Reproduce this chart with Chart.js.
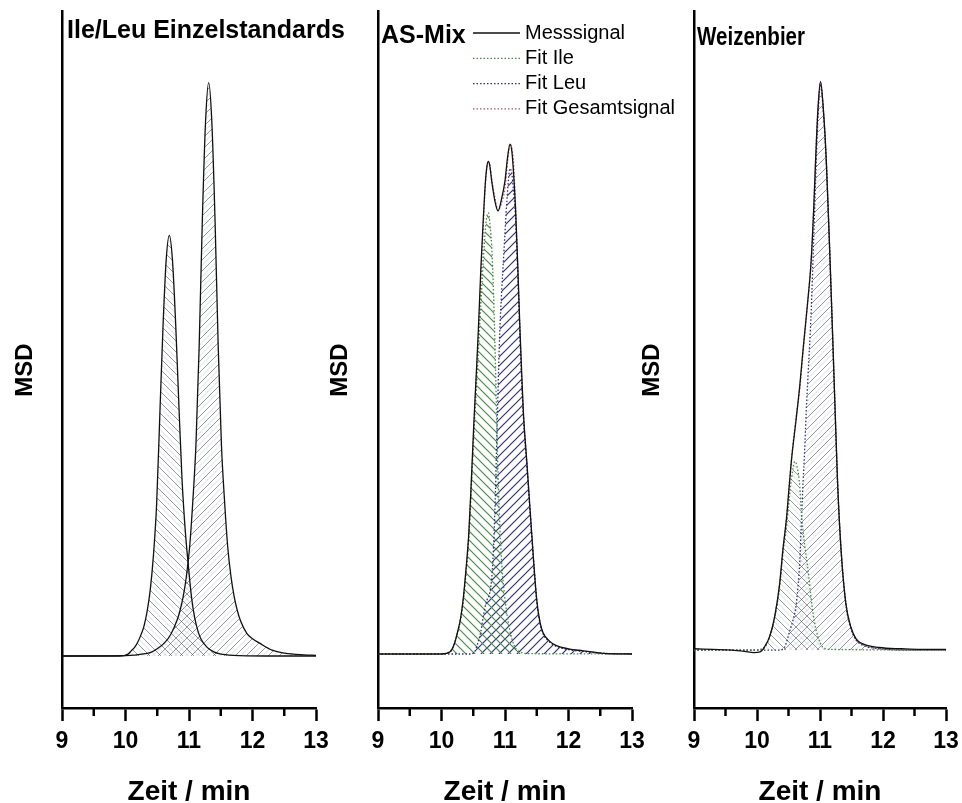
<!DOCTYPE html>
<html>
<head>
<meta charset="utf-8">
<title>Ile/Leu</title>
<script src="https://cdn.jsdelivr.net/npm/chart.js@4.4.1/dist/chart.umd.min.js"></script>
<style>
  html, body { margin: 0; padding: 0; background: #fff; }
  body { width: 962px; height: 803px; position: relative; overflow: hidden; }
  canvas { position: absolute; top: 0; }
  #c1 { left: 0; }
  #c2 { left: 316px; }
  #c3 { left: 620px; }
</style>
</head>
<body>
<canvas id="c1" width="360" height="803"></canvas>
<canvas id="c2" width="360" height="803"></canvas>
<canvas id="c3" width="350" height="803"></canvas>
<script>
// x axis
const timeTicks = [9, 10, 11, 12, 13];
const minorTicks = [9.5, 10.5, 11.5, 12.5];

// Ile/Leu single standards
const stdIleTime = [9.0, 9.9, 10.04, 10.09, 10.14, 10.19, 10.24, 10.29, 10.34, 10.39, 10.44, 10.49, 10.54, 10.59, 10.64, 10.69, 10.74, 10.79, 10.84, 10.89, 10.94, 10.99, 11.04, 11.09, 11.14, 11.19, 11.29, 11.39, 11.49, 11.7, 12.2, 13.0];
const stdIleSignal = [0, 0, 0.3, 0.8, 1.3, 2.1, 3.2, 4.6, 6.9, 10.3, 15.6, 23.5, 37.2, 50.9, 61.3, 65.2, 61.3, 51.5, 39.1, 27.4, 19.6, 14.0, 9.1, 5.9, 3.9, 2.6, 1.3, 0.65, 0.33, 0.1, 0, 0];
const stdLeuTime = [9.0, 10.0, 10.31, 10.41, 10.51, 10.61, 10.71, 10.81, 10.86, 10.91, 10.96, 11.01, 11.06, 11.11, 11.16, 11.21, 11.26, 11.31, 11.36, 11.41, 11.46, 11.51, 11.56, 11.61, 11.66, 11.71, 11.76, 11.81, 11.91, 12.01, 12.11, 12.31, 12.51, 12.81, 13.0];
const stdLeuSignal = [0, 0.05, 0.36, 0.6, 1.2, 2.0, 3.3, 5.5, 7.1, 9.3, 12.4, 16.9, 24.0, 32.9, 48.0, 67.6, 82.7, 88.9, 82.7, 67.6, 48.0, 32.9, 24.0, 16.9, 12.4, 9.3, 7.1, 5.5, 3.5, 2.6, 2.0, 0.9, 0.44, 0.18, 0.1];

// AS-Mix
const mixTime = [9.0, 9.6, 10.0, 10.13, 10.20, 10.25, 10.30, 10.34, 10.38, 10.43, 10.47, 10.51, 10.55, 10.58, 10.62, 10.66, 10.69, 10.715, 10.737, 10.76, 10.79, 10.84, 10.89, 10.94, 11.00, 11.04, 11.079, 11.11, 11.13, 11.165, 11.20, 11.236, 11.27, 11.29, 11.35, 11.42, 11.50, 11.55, 11.60, 11.70, 11.81, 12.0, 12.23, 12.55, 13.0];
const mixSignal = [0, 0, 0, 0.3, 1.5, 3.3, 5.5, 8.4, 12.5, 18.8, 27.0, 36.0, 44.0, 50.3, 60.0, 68.0, 73.2, 75.8, 76.6, 76.0, 73.6, 70.5, 68.9, 70.5, 73.6, 77.2, 79.3, 78.0, 75.5, 69.5, 60.7, 50.3, 42.0, 37.5, 29.0, 18.8, 8.4, 5.0, 3.3, 2.0, 1.3, 0.8, 0.5, 0.1, 0];
const mixSumFit = [0, 0, 0, 0.3, 1.5, 3.2, 5.4, 8.1, 12.0, 18.4, 26.4, 35.2, 43.5, 49.0, 58.0, 67.0, 72.8, 75.8, 76.4, 76.0, 74.0, 71.0, 69.0, 70.0, 72.5, 76.5, 79.3, 78.5, 77.0, 70.0, 60.1, 49.9, 41.0, 37.0, 28.6, 18.6, 8.3, 4.9, 3.2, 1.9, 1.2, 0.7, 0.4, 0.1, 0];
const mixIleTime = [9.0, 10.0, 10.13, 10.20, 10.25, 10.30, 10.34, 10.38, 10.43, 10.47, 10.51, 10.55, 10.58, 10.62, 10.66, 10.69, 10.72, 10.74, 10.76, 10.80, 10.84, 10.88, 10.91, 10.95, 11.00, 11.07, 11.14, 11.22, 11.4, 13.0];
const mixIleFit = [0, 0, 0.3, 1.5, 3.2, 5.4, 8.1, 12.0, 18.0, 25.8, 34.2, 41.5, 47.0, 54.5, 61.5, 66.0, 68.3, 68.6, 67.2, 61.5, 49.0, 32.0, 22.0, 14.0, 8.5, 4.0, 1.4, 0.4, 0.05, 0];
const mixLeuTime = [9.0, 10.45, 10.53, 10.58, 10.62, 10.66, 10.69, 10.72, 10.76, 10.80, 10.84, 10.88, 10.91, 10.94, 10.98, 11.03, 11.08, 11.11, 11.13, 11.165, 11.20, 11.236, 11.27, 11.29, 11.35, 11.42, 11.50, 11.55, 11.60, 11.70, 11.81, 12.0, 12.23, 12.55, 13.0];
const mixLeuFit = [0, 0, 0.5, 2.0, 3.5, 6.0, 7.5, 8.5, 9.5, 13.0, 22.0, 37.0, 48.0, 55.0, 62.0, 70.5, 75.5, 74.5, 72.5, 68.0, 59.5, 49.5, 41.0, 37.0, 28.6, 18.6, 8.3, 4.9, 3.2, 1.9, 1.2, 0.7, 0.4, 0.1, 0];

// Weizenbier
const beerTime = [9.0, 9.3, 9.6, 9.8, 9.95, 10.05, 10.12, 10.20, 10.28, 10.36, 10.41, 10.47, 10.51, 10.55, 10.62, 10.68, 10.73, 10.80, 10.86, 10.90, 10.93, 10.966, 11.008, 11.055, 11.10, 11.16, 11.21, 11.24, 11.28, 11.335, 11.41, 11.49, 11.57, 11.67, 11.94, 12.3, 12.6, 13.0];
const beerSignal = [0.2, 0.1, 0.0, -0.2, -0.4, -0.3, 0.5, 2.1, 5.2, 10.4, 15.6, 20.8, 25.5, 30.0, 36.0, 41.5, 46.9, 54.0, 61.0, 69.0, 76.6, 84.4, 89.0, 84.4, 76.6, 60.9, 46.4, 37.5, 26.0, 15.6, 7.3, 3.6, 1.8, 1.0, 0.4, 0.2, 0.1, 0.1];
const beerSumFit = [0, 0, 0, 0, 0, 0.1, 0.5, 2.1, 5.2, 10.3, 15.5, 20.8, 25.5, 30.2, 36.3, 41.0, 46.5, 54.0, 61.0, 69.2, 76.8, 84.6, 88.8, 84.3, 76.5, 60.9, 46.4, 37.5, 26.0, 15.6, 7.4, 3.5, 1.7, 0.9, 0.25, 0.05, 0, 0];
const beerIleTime = [9.0, 10.05, 10.12, 10.20, 10.28, 10.36, 10.41, 10.47, 10.51, 10.55, 10.60, 10.64, 10.68, 10.70, 10.75, 10.81, 10.86, 10.91, 10.97, 11.04, 11.15, 13.0];
const beerIleFit = [0, 0, 0.4, 2.0, 5.0, 10.0, 15.0, 19.5, 23.5, 27.0, 29.5, 28.5, 25.5, 22.0, 17.0, 12.5, 8.0, 4.5, 2.0, 0.5, 0.1, 0];
const beerLeuTime = [9.0, 10.35, 10.44, 10.52, 10.58, 10.62, 10.68, 10.70, 10.73, 10.755, 10.78, 10.81, 10.86, 10.90, 10.93, 10.966, 11.008, 11.055, 11.10, 11.16, 11.21, 11.24, 11.28, 11.335, 11.41, 11.49, 11.57, 11.67, 11.94, 12.3, 13.0];
const beerLeuFit = [0, 0, 0.5, 3.0, 5.0, 7.0, 14.0, 19.0, 26.0, 31.0, 37.0, 43.0, 53.0, 64.5, 73.5, 83.0, 88.5, 84.0, 76.3, 60.7, 46.2, 37.3, 25.9, 15.5, 7.2, 3.4, 1.6, 0.8, 0.2, 0, 0];

const FONT = '"Liberation Sans", Arial, sans-serif';
Chart.defaults.font.family = FONT;
Chart.defaults.color = '#000';

const pts = (xs, ys) => xs.map((x, i) => ({ x, y: ys[i] }));

// diagonal hatch pattern; dir '/' or '\\'
function hatch(dir, color, width, size, light) {
  const s = size;
  const c = document.createElement('canvas');
  c.width = c.height = s;
  const g = c.getContext('2d');
  if (dir === '\\') { g.translate(s, 0); g.scale(-1, 1); }
  const seg = (x1, y1, x2, y2) => { g.moveTo(x1, y1); g.lineTo(x2, y2); };
  if (light) {
    g.strokeStyle = light; g.lineWidth = 1;
    g.beginPath();
    seg(-1, s / 2 + 1, s / 2 + 1, -1);
    seg(s / 2 - 1, s + 1, s + 1, s / 2 - 1);
    g.stroke();
  }
  g.strokeStyle = color; g.lineWidth = width;
  g.beginPath();
  seg(-1, s + 1, s + 1, -1);
  seg(-1, 1, 1, -1);
  seg(s - 1, s + 1, s + 1, s - 1);
  g.stroke();
  return g.createPattern(c, 'repeat');
}

const greyBack = hatch('\\', 'rgba(80,80,80,0.6)', 1, 11, 'rgba(160,185,200,0.45)');
const greyFwd = hatch('/', 'rgba(80,80,80,0.6)', 1, 11, 'rgba(160,185,200,0.45)');
const greenBack = hatch('\\', '#458f45', 1.2, 9);
const navyFwd = hatch('/', '#30308a', 1.2, 9);

const dots = [1.5, 2];

const panelDeco = {
  id: 'panelDeco',
  afterDraw(chart, args, opts) {
    const { ctx, chartArea: a } = chart;
    const x = chart.scales.x;
    ctx.save();
    // minor ticks
    ctx.strokeStyle = '#000';
    ctx.lineWidth = 2.5;
    minorTicks.forEach(v => {
      const px = x.getPixelForValue(v);
      ctx.beginPath();
      ctx.moveTo(px, a.bottom);
      ctx.lineTo(px, a.bottom + 8);
      ctx.stroke();
    });
    // panel heading
    ctx.fillStyle = '#000';
    ctx.textBaseline = 'middle';
    ctx.textAlign = 'left';
    ctx.font = 'bold 25px ' + FONT;
    ctx.fillText(opts.title, a.left + opts.titleDx, opts.titleY, opts.titleWidth);
    // legend
    if (opts.legend) {
      ctx.font = '20px ' + FONT;
      chart.data.datasets.forEach((ds, i) => {
        const y = opts.legendY + i * 25.3;
        ctx.strokeStyle = ds.borderColor;
        ctx.lineWidth = ds.borderWidth;
        ctx.setLineDash(ds.borderDash || []);
        ctx.beginPath();
        ctx.moveTo(a.left + 95, y);
        ctx.lineTo(a.left + 142, y);
        ctx.stroke();
        ctx.setLineDash([]);
        ctx.fillText(ds.label, a.left + 147, y);
      });
    }
    // y axis label
    ctx.translate(a.left - opts.labelDx, 370);
    ctx.rotate(-Math.PI / 2);
    ctx.textAlign = 'center';
    ctx.font = 'bold 24px ' + FONT;
    ctx.fillText('MSD', 0, 0);
    ctx.restore();
  }
};

function makePanel(id, datasets, yMin, yWidth, padRight, deco) {
  return new Chart(document.getElementById(id), {
    type: 'line',
    data: { datasets },
    plugins: [panelDeco],
    options: {
      responsive: false,
      animation: false,
      events: [],
      layout: { padding: { top: 11, right: padRight, bottom: 0, left: 0 } },
      elements: { point: { radius: 0 }, line: { cubicInterpolationMode: 'monotone' } },
      scales: {
        x: {
          type: 'linear',
          min: 9, max: 13,
          afterBuildTicks: s => { s.ticks = timeTicks.map(v => ({ value: v })); },
          afterFit: s => { s.height = 95; },
          ticks: { font: { size: 23, weight: 'bold' }, color: '#000', padding: 7, maxRotation: 0, autoSkip: false },
          grid: { display: true, drawOnChartArea: false, drawTicks: true, tickLength: 13, tickWidth: 2.5, tickColor: '#000', color: '#000' },
          border: { display: true, width: 2.5, color: '#000' },
          title: { display: true, text: 'Zeit / min', color: '#000', font: { size: 28, weight: 'bold', lineHeight: 0.8 }, padding: 0 }
        },
        y: {
          min: yMin, max: 100,
          afterFit: s => { s.width = yWidth; },
          ticks: { display: false },
          grid: { display: false },
          border: { display: true, width: 2.5, color: '#000' }
        }
      },
      plugins: {
        legend: { display: false },
        tooltip: { enabled: false },
        filler: { drawTime: 'beforeDatasetsDraw' },
        panelDeco: deco
      }
    }
  });
}

makePanel('c1', [
  { label: 'Ile', data: pts(stdIleTime, stdIleSignal), borderColor: '#111', borderWidth: 1.3, fill: 'origin', backgroundColor: greyBack },
  { label: 'Leu', data: pts(stdLeuTime, stdLeuSignal), borderColor: '#111', borderWidth: 1.3, fill: 'origin', backgroundColor: greyFwd }
], -8.06, 62, 44, { title: 'Ile/Leu Einzelstandards', titleDx: 5, titleY: 31, labelDx: 37 });

makePanel('c2', [
  { label: 'Messsignal', data: pts(mixTime, mixSignal), borderColor: '#111', borderWidth: 1.3, fill: false },
  { label: 'Fit Ile', data: pts(mixIleTime, mixIleFit), borderColor: '#3f8a3f', borderWidth: 1.3, borderDash: dots, fill: 'origin', backgroundColor: greenBack },
  { label: 'Fit Leu', data: pts(mixLeuTime, mixLeuFit), borderColor: '#2d2d85', borderWidth: 1.3, borderDash: dots, fill: 'origin', backgroundColor: navyFwd },
  { label: 'Fit Gesamtsignal', data: pts(mixTime, mixSumFit), borderColor: '#b8505c', borderWidth: 1.3, borderDash: dots, fill: false }
], -8.4, 62, 44, { title: 'AS-Mix', titleDx: 3, titleY: 36, labelDx: 38, legend: true, legendY: 33 });

makePanel('c3', [
  { label: 'Messsignal', data: pts(beerTime, beerSignal), borderColor: '#111', borderWidth: 1.3, fill: false },
  { label: 'Fit Ile', data: pts(beerIleTime, beerIleFit), borderColor: '#3f8a3f', borderWidth: 1.3, borderDash: dots, fill: 'origin', backgroundColor: greyBack },
  { label: 'Fit Leu', data: pts(beerLeuTime, beerLeuFit), borderColor: '#2d2d85', borderWidth: 1.3, borderDash: dots, fill: 'origin', backgroundColor: greyFwd },
  { label: 'Fit Gesamtsignal', data: pts(beerTime, beerSumFit), borderColor: '#b8505c', borderWidth: 1.3, borderDash: dots, fill: false }
], -9.07, 74, 24, { title: 'Weizenbier', titleWidth: 108, titleDx: 3, titleY: 38, labelDx: 42 });
</script>
</body>
</html>
